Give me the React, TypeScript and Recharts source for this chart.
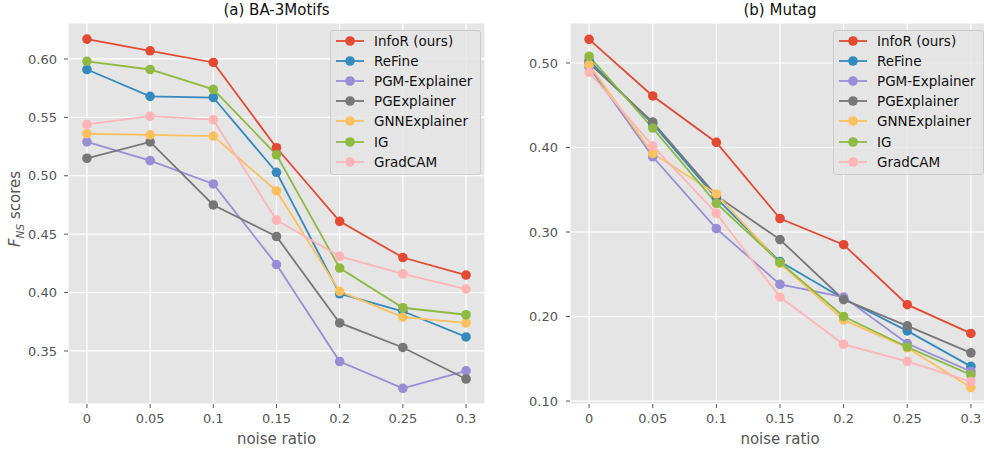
import React from 'react';
import { LineChart, Line, XAxis, YAxis, CartesianGrid, Legend } from 'recharts';

// ---------- data ----------
const noiseRatios = [0, 0.05, 0.1, 0.15, 0.2, 0.25, 0.3];
const xTickLabels = ['0', '0.05', '0.1', '0.15', '0.2', '0.25', '0.3'];
const seriesNames = ['InfoR (ours)', 'ReFine', 'PGM-Explainer', 'PGExplainer', 'GNNExplainer', 'IG', 'GradCAM'];

// (a) BA-3Motifs
const baInfoR = [0.617, 0.607, 0.597, 0.524, 0.461, 0.430, 0.415];
const baReFine = [0.591, 0.568, 0.567, 0.503, 0.399, 0.384, 0.362];
const baPGM = [0.529, 0.513, 0.493, 0.424, 0.341, 0.318, 0.333];
const baPGEx = [0.515, 0.529, 0.475, 0.448, 0.374, 0.353, 0.326];
const baGNN = [0.536, 0.535, 0.534, 0.487, 0.401, 0.379, 0.374];
const baIG = [0.598, 0.591, 0.574, 0.518, 0.421, 0.387, 0.381];
const baGradCAM = [0.544, 0.551, 0.548, 0.462, 0.431, 0.416, 0.403];
const baYTicks = [0.35, 0.40, 0.45, 0.50, 0.55, 0.60];

// (b) Mutag
const muInfoR = [0.528, 0.461, 0.406, 0.316, 0.285, 0.214, 0.180];
const muReFine = [0.503, 0.428, 0.340, 0.265, 0.221, 0.183, 0.141];
const muPGM = [0.495, 0.389, 0.304, 0.238, 0.223, 0.168, 0.135];
const muPGEx = [0.500, 0.430, 0.343, 0.291, 0.220, 0.189, 0.157];
const muGNN = [0.498, 0.393, 0.345, 0.263, 0.196, 0.163, 0.116];
const muIG = [0.508, 0.423, 0.334, 0.264, 0.200, 0.164, 0.131];
const muGradCAM = [0.489, 0.402, 0.322, 0.223, 0.167, 0.147, 0.123];
const muYTicks = [0.10, 0.20, 0.30, 0.40, 0.50];

// ---------- styles ----------
const COLORS = ['#E24A33', '#348ABD', '#988ED5', '#777777', '#FBC15E', '#8EBA42', '#FFB5B8'];
const FONT = '"DejaVu Sans", sans-serif';
const KEYS = ['s0', 's1', 's2', 's3', 's4', 's5', 's6'];

function buildRows(series: number[][]) {
  return noiseRatios.map((x, i) => {
    const row: Record<string, number> = { x };
    series.forEach((s, k) => {
      row[KEYS[k]] = s[i];
    });
    return row;
  });
}

const baData = buildRows([baInfoR, baReFine, baPGM, baPGEx, baGNN, baIG, baGradCAM]);
const muData = buildRows([muInfoR, muReFine, muPGM, muPGEx, muGNN, muIG, muGradCAM]);

const LegendBox = () => (
  <div
    style={{
      position: 'relative',
      width: 151,
      height: 145,
      boxSizing: 'border-box',
      border: '1px solid #CCCCCC',
      borderRadius: 3,
      background: 'rgba(229,229,229,0.8)',
      fontFamily: FONT,
      fontSize: 13.5,
      color: '#111',
    }}
  >
    {seriesNames.map((name, i) => (
      <div key={name} style={{ position: 'absolute', left: 0, top: 20.1 * i, height: 20, width: 150 }}>
        <svg width={40} height={20} style={{ position: 'absolute', left: 0, top: 0 }}>
          <line x1={5} x2={33} y1={10} y2={10} stroke={COLORS[i]} strokeWidth={1.8} />
          <circle cx={19} cy={10} r={4.8} fill={COLORS[i]} />
        </svg>
        <span style={{ position: 'absolute', left: 43, top: 1, lineHeight: '18px', whiteSpace: 'nowrap' }}>{name}</span>
      </div>
    ))}
  </div>
);

type PanelProps = {
  data: Record<string, number>[];
  yDomain: [number, number];
  yTicks: number[];
  width: number;
  marginLeft: number;
  marginRight: number;
  legendLeft: number;
  yTickMargin: number;
};

const Panel = ({ data, yDomain, yTicks, width, marginLeft, marginRight, legendLeft, yTickMargin }: PanelProps) => (
  <LineChart
    width={width}
    height={449}
    data={data}
    margin={{ top: 23, right: marginRight, bottom: 15, left: marginLeft }}
  >
    <CartesianGrid fill="#E5E5E5" stroke="#FFFFFF" strokeWidth={1.2} />
    <XAxis
      dataKey="x"
      type="number"
      domain={[-0.015, 0.315]}
      ticks={noiseRatios}
      tickFormatter={(v: number) => xTickLabels[noiseRatios.indexOf(v)] ?? String(v)}
      axisLine={false}
      tickLine={{ stroke: '#555555' }}
      tickSize={4}
      tickMargin={6}
      height={30}
      tick={{ fill: '#555555', fontSize: 13, fontFamily: FONT }}
      allowDataOverflow
    />
    <YAxis
      type="number"
      domain={yDomain}
      ticks={yTicks}
      tickFormatter={(v: number) => v.toFixed(2)}
      axisLine={false}
      tickLine={{ stroke: '#555555' }}
      tickSize={4}
      tickMargin={yTickMargin}
      width={60}
      tick={{ fill: '#555555', fontSize: 13, fontFamily: FONT }}
      allowDataOverflow
    />
    <Legend
      layout="vertical"
      align="center"
      verticalAlign="middle"
      content={() => <LegendBox />}
      wrapperStyle={{ position: 'absolute', left: legendLeft, top: 30, width: 151, height: 145 }}
    />
    {KEYS.map((k, i) => (
      <Line
        key={k}
        dataKey={k}
        name={seriesNames[i]}
        stroke={COLORS[i]}
        strokeWidth={1.8}
        dot={{ r: 4.8, fill: COLORS[i], stroke: COLORS[i], strokeWidth: 0 }}
        activeDot={false}
        isAnimationActive={false}
        type="linear"
      />
    ))}
  </LineChart>
);

const label = (cx: number, cy: number, color: string, size = 15): React.CSSProperties => ({
  position: 'absolute',
  left: cx - 100,
  top: cy - 10,
  width: 200,
  height: 20,
  lineHeight: '20px',
  textAlign: 'center',
  fontFamily: FONT,
  fontSize: size,
  whiteSpace: 'nowrap',
  color,
  zIndex: 5,
});

export default function App() {
  return (
    <div style={{ position: 'fixed', left: 0, top: 0, width: 984, height: 449, overflow: 'hidden', background: '#fff' }}>
      <div style={{ position: 'absolute', left: 0, top: 0 }}>
        <Panel
          data={baData}
          yDomain={[0.3046, 0.6308]}
          yTicks={baYTicks}
          width={490}
          marginLeft={8}
          marginRight={5}
          legendLeft={330}
          yTickMargin={7}
        />
      </div>
      <div style={{ position: 'absolute', left: 490, top: 0 }}>
        <Panel
          data={muData}
          yDomain={[0.0965, 0.5473]}
          yTicks={muYTicks}
          width={500}
          marginLeft={20}
          marginRight={0}
          legendLeft={343}
          yTickMargin={8}
        />
      </div>
      <div style={label(276.5, 10, '#111')}>(a) BA-3Motifs</div>
      <div style={label(780, 10, '#111')}>(b) Mutag</div>
      <div style={label(276.5, 439, '#555')}>noise ratio</div>
      <div style={label(780, 439, '#555')}>noise ratio</div>
      <div style={{ ...label(15, 209, '#555'), transform: 'rotate(-90deg)' }}>
        <i>F</i>
        <sub style={{ fontSize: 10.5, fontStyle: 'italic', lineHeight: 0 }}>NS</sub> scores
      </div>
    </div>
  );
}
